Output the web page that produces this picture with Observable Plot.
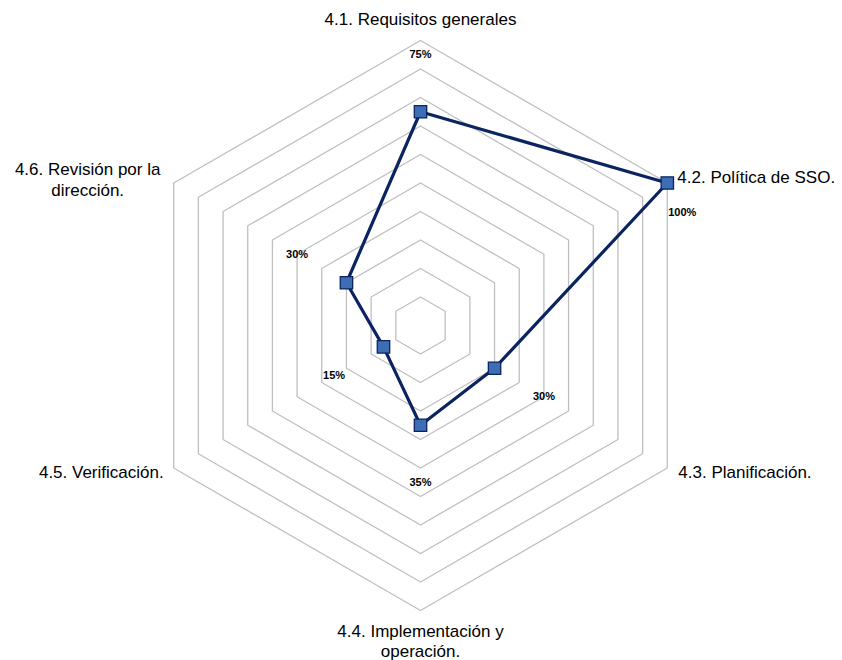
<!DOCTYPE html>
<html>
<head>
<meta charset="utf-8">
<script src="https://cdn.jsdelivr.net/npm/d3@7"></script>
<script src="https://cdn.jsdelivr.net/npm/@observablehq/plot@0.6"></script>
<style>
  html, body { margin: 0; padding: 0; background: #fff; }
  #chart svg { display: block; }
</style>
</head>
<body>
<div id="chart"></div>
<script>
const categories = [
  "4.1. Requisitos generales",
  "4.2. Política de SSO.",
  "4.3. Planificación.",
  "4.4. Implementación y\noperación.",
  "4.5. Verificación.",
  "4.6. Revisión por la\ndirección."
];
const values = [0.75, 1.00, 0.30, 0.35, 0.15, 0.30];
const valueLabels = ["75%", "100%", "30%", "35%", "15%", "30%"];
const gridLevels = [0.1, 0.2, 0.3, 0.4, 0.5, 0.6, 0.7, 0.8, 0.9, 1.0];

const n = categories.length;
const ang = i => (i * 2 * Math.PI) / n;
const px = (i, r) => r * Math.sin(ang(i));
const py = (i, r) => r * Math.cos(ang(i));

// grid hexagons
const gridData = [];
for (const lv of gridLevels) {
  for (let i = 0; i <= n; i++) gridData.push({lv, x: px(i % n, lv), y: py(i % n, lv)});
}
const pts = values.map((v, i) => ({i, v, x: px(i, v), y: py(i, v), label: valueLabels[i]}));
const linePts = [...pts, pts[0]];
const labelPts = pts.filter(d => d.v < 1).map(d => ({...d, lx: px(d.i, d.v + 0.2), ly: py(d.i, d.v + 0.2)}));
const maxPts = pts.filter(d => d.v >= 1);
const cat = categories.map((c, i) => ({c, i, x: px(i, 1), y: py(i, 1)}));

const S = 285, CX = 420, CY = 325, W = 842, H = 660;
const catFont = {fontFamily: "Liberation Sans, Arial, sans-serif", fontSize: 17, fill: "#000"};
const valFont = {fontFamily: "Liberation Sans, Arial, sans-serif", fontSize: 11, fontWeight: "bold", fill: "#000"};

const plot = Plot.plot({
  width: W, height: H,
  margin: 0,
  x: {domain: [-CX / S, (W - CX) / S], range: [0, W], axis: null},
  y: {domain: [-(H - CY) / S, CY / S], range: [H, 0], axis: null},
  style: {background: "#fff", overflow: "visible"},
  marks: [
    Plot.line(gridData, {x: "x", y: "y", z: "lv", stroke: "#bfbfbf", strokeWidth: 1.3, curve: "linear"}),
    Plot.line(linePts, {x: "x", y: "y", stroke: "#0b2461", strokeWidth: 3.2, curve: "linear"}),
    Plot.dot(pts, {x: "x", y: "y", symbol: "square", r: 7, fill: "#3d6db5", stroke: "#0b2461", strokeWidth: 1.3}),
    Plot.text(labelPts, {x: "lx", y: "ly", text: "label", ...valFont}),
    Plot.text(maxPts, {x: "x", y: "y", text: "label", dx: 15, dy: 29, ...valFont}),
    Plot.text(cat.filter(d => d.i === 0), {x: "x", y: "y", text: "c", dy: -21, textAnchor: "middle", ...catFont}),
    Plot.text(cat.filter(d => d.i === 1), {x: "x", y: "y", text: "c", dx: 10, dy: -5, textAnchor: "start", ...catFont}),
    Plot.text(cat.filter(d => d.i === 2), {x: "x", y: "y", text: "c", dx: 11, dy: 5, textAnchor: "start", ...catFont}),
    Plot.text(cat.filter(d => d.i === 3), {x: "x", y: "y", text: "c", dy: 12, textAnchor: "middle", lineAnchor: "top", lineHeight: 1.2, ...catFont}),
    Plot.text(cat.filter(d => d.i === 4), {x: "x", y: "y", text: "c", dx: -10, dy: 5, textAnchor: "end", ...catFont}),
    Plot.text(cat.filter(d => d.i === 5), {x: "x", y: "y", text: "c", dx: -86, dy: -4, textAnchor: "middle", lineHeight: 1.2, ...catFont})
  ]
});
document.getElementById("chart").appendChild(plot);
</script>
</body>
</html>
